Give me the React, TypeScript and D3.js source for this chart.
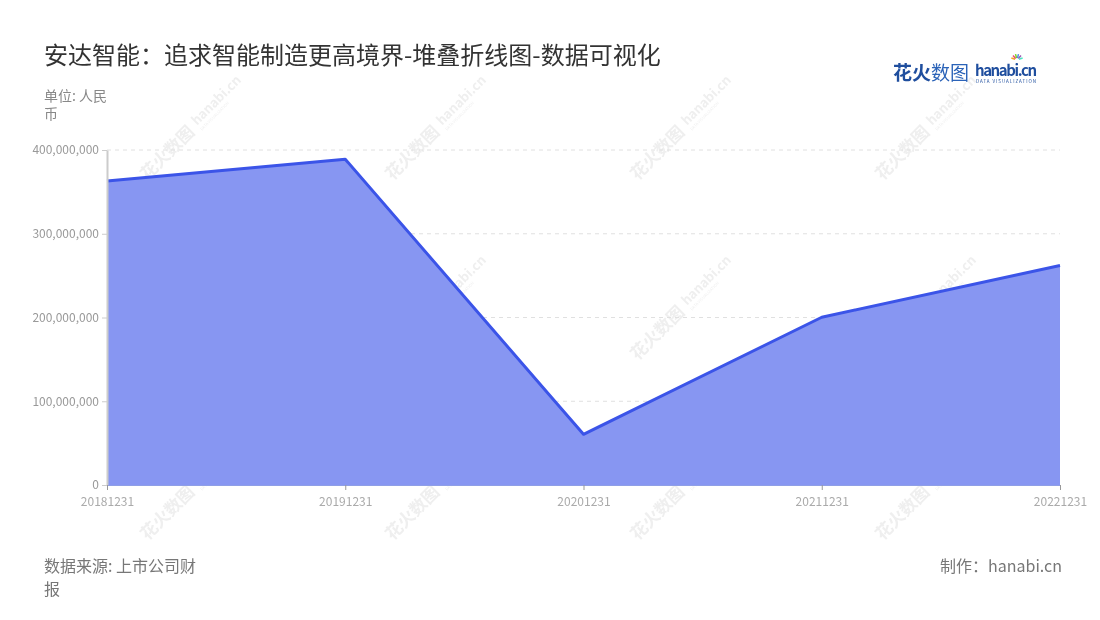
import React, { useEffect, useRef } from "react";
import * as d3 from "d3";

const categories: string[] = ["20181231", "20191231", "20201231", "20211231", "20221231"];
const values: number[] = [363000000, 389000000, 60500000, 200300000, 262000000];
const yTicks: number[] = [0, 100000000, 200000000, 300000000, 400000000];

const W = 1100;
const H = 620;
const margin = { top: 150, right: 40, bottom: 135, left: 107 };
const FONT = "'Noto Sans CJK SC', 'Noto Sans', sans-serif";

const App = () => {
  const ref = useRef<SVGSVGElement>(null);

  useEffect(() => {
    const svg = d3.select(ref.current);
    svg.selectAll("*").remove();

    const width = W - margin.left - margin.right;
    const height = H - margin.top - margin.bottom;

    // watermarks
    const wm = svg.append("g").attr("opacity", 0.3);
    const rows = [140, 320, 500];
    const cols = [180, 425, 670, 915];
    rows.forEach((ry) => {
      cols.forEach((cx) => {
        const g = wm.append("g").attr("transform", `translate(${cx},${ry}) rotate(-45)`);
        g.append("text")
          .attr("x", -52)
          .attr("y", 6)
          .attr("font-family", FONT)
          .attr("font-size", 17)
          .attr("font-weight", 700)
          .attr("fill", "#c8c8c8")
          .text("花火数图");
        g.append("text")
          .attr("x", 22)
          .attr("y", 2)
          .attr("font-family", FONT)
          .attr("font-size", 13)
          .attr("font-weight", 700)
          .attr("fill", "#c8c8c8")
          .text("hanabi.cn");
        g.append("text")
          .attr("x", 22)
          .attr("y", 9)
          .attr("font-family", FONT)
          .attr("font-size", 4)
          .attr("fill", "#c8c8c8")
          .text("DATA VISUALIZATION");
      });
    });

    const chart = svg.append("g").attr("transform", `translate(${margin.left},${margin.top})`);

    const x = d3.scalePoint<string>().domain(categories).range([0, width]);
    const y = d3.scaleLinear().domain([0, 400000000]).range([height, 0]);

    // grid lines
    chart
      .append("g")
      .selectAll("line")
      .data(yTicks.filter((t) => t > 0))
      .enter()
      .append("line")
      .attr("x1", 0)
      .attr("x2", width)
      .attr("y1", (d) => y(d))
      .attr("y2", (d) => y(d))
      .attr("stroke", "#e0e0e0")
      .attr("stroke-dasharray", "4,4");

    // area
    const area = d3
      .area<number>()
      .x((_, i) => x(categories[i]) as number)
      .y0(y(0))
      .y1((d) => y(d));
    chart.append("path").datum(values).attr("d", area).attr("fill", "#8796f2");

    const line = d3
      .line<number>()
      .x((_, i) => x(categories[i]) as number)
      .y((d) => y(d));
    chart
      .append("path")
      .datum(values)
      .attr("d", line)
      .attr("fill", "none")
      .attr("stroke", "#3b54e8")
      .attr("stroke-width", 3)
      .attr("stroke-linejoin", "round");

    // y axis
    const yAxis = chart
      .append("g")
      .call(
        d3
          .axisLeft(y)
          .tickValues(yTicks)
          .tickSize(5)
          .tickPadding(3)
          .tickSizeOuter(0)
          .tickFormat((d) => d3.format(",")(d as number))
      );
    yAxis.select(".domain").attr("stroke", "#cccccc").attr("stroke-width", 2);
    yAxis.selectAll(".tick line").attr("stroke", "#cccccc");
    yAxis
      .selectAll(".tick text")
      .attr("fill", "#999999")
      .attr("font-size", 12)
      .attr("font-family", FONT);

    // x axis
    const xAxis = chart
      .append("g")
      .attr("transform", `translate(0,${height})`)
      .call(d3.axisBottom(x).tickSize(5).tickPadding(7));
    xAxis.select(".domain").attr("stroke", "#8f9fe6").attr("stroke-width", 1);
    xAxis.selectAll(".tick line").attr("stroke", "#999999");
    xAxis
      .selectAll(".tick text")
      .attr("fill", "#aaaaaa")
      .attr("font-size", 12)
      .attr("font-family", FONT);

    // title
    svg
      .append("text")
      .attr("x", 44)
      .attr("y", 64)
      .attr("font-family", FONT)
      .attr("font-size", 24)
      .attr("fill", "#333333")
      .text("安达智能：追求智能制造更高境界-堆叠折线图-数据可视化");

    // unit
    const unit = svg
      .append("text")
      .attr("font-family", FONT)
      .attr("font-size", 14)
      .attr("fill", "#888888");
    unit.append("tspan").attr("x", 44).attr("y", 101).text("单位: 人民");
    unit.append("tspan").attr("x", 44).attr("y", 119).text("币");

    // source
    const src = svg
      .append("text")
      .attr("font-family", FONT)
      .attr("font-size", 16)
      .attr("fill", "#777777");
    src.append("tspan").attr("x", 44).attr("y", 572).text("数据来源: 上市公司财");
    src.append("tspan").attr("x", 44).attr("y", 595).text("报");

    svg
      .append("text")
      .attr("x", 1062)
      .attr("y", 572)
      .attr("text-anchor", "end")
      .attr("font-family", FONT)
      .attr("font-size", 16)
      .attr("fill", "#777777")
      .text("制作：hanabi.cn");

    // logo
    const logo = svg.append("g").attr("transform", "translate(893,80)");
    logo
      .append("text")
      .attr("x", 0)
      .attr("y", 0)
      .attr("font-family", FONT)
      .attr("font-size", 19)
      .attr("font-weight", 700)
      .attr("fill", "#1f4e9e")
      .text("花火");
    logo
      .append("text")
      .attr("x", 38)
      .attr("y", 0)
      .attr("font-family", FONT)
      .attr("font-size", 19)
      .attr("fill", "#2b63b8")
      .text("数图");
    logo
      .append("text")
      .attr("x", 82)
      .attr("y", -4)
      .attr("font-family", FONT)
      .attr("font-size", 15)
      .attr("font-weight", 700)
      .attr("fill", "#1f4e9e")
      .attr("textLength", 62)
      .text("hanabi.cn");
    logo
      .append("text")
      .attr("x", 83)
      .attr("y", 3)
      .attr("font-family", FONT)
      .attr("font-size", 4.5)
      .attr("fill", "#1f4e9e")
      .attr("textLength", 60)
      .text("DATA VISUALIZATION");
    const burst = ["#f5a623", "#e94e77", "#7ed321", "#4a90e2", "#9b59b6", "#50e3c2"];
    burst.forEach((c, i) => {
      const a = (-160 + i * 28) * (Math.PI / 180);
      logo
        .append("line")
        .attr("x1", 124 + Math.cos(a) * 2)
        .attr("y1", -20 + Math.sin(a) * 2)
        .attr("x2", 124 + Math.cos(a) * 6)
        .attr("y2", -20 + Math.sin(a) * 6)
        .attr("stroke", c)
        .attr("stroke-width", 1.5);
    });
  }, []);

  return <svg ref={ref} width={W} height={H} style={{ display: "block", margin: "-8px" }} />;
};

export default App;
